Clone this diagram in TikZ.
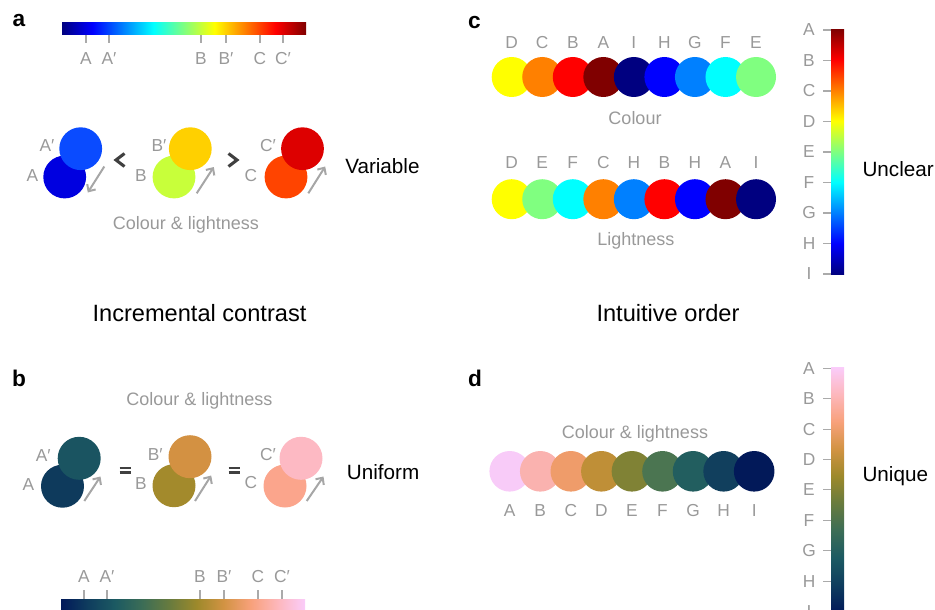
\documentclass[tikz,border=0pt]{standalone}
\usepackage{fontspec}
\setmainfont{Liberation Sans}
\usetikzlibrary{arrows.meta}
% jet colormap
\definecolor{jet0}{rgb}{0,0,0.5}
\definecolor{jet1}{rgb}{0,0,1}
\definecolor{jet2}{rgb}{0,1,1}
\definecolor{jet3}{rgb}{1,1,0}
\definecolor{jet4}{rgb}{1,0,0}
\definecolor{jet5}{rgb}{0.5,0,0}
% batlow colormap
\definecolor{bat0}{HTML}{011959}
\definecolor{bat1}{HTML}{0F3D5E}
\definecolor{bat2}{HTML}{1C5A62}
\definecolor{bat3}{HTML}{3C6D56}
\definecolor{bat4}{HTML}{687B3E}
\definecolor{bat5}{HTML}{9D892B}
\definecolor{bat6}{HTML}{D29343}
\definecolor{bat7}{HTML}{F8A17B}
\definecolor{bat8}{HTML}{FDB7BC}
\definecolor{bat9}{HTML}{FACCFA}
\pgfdeclarehorizontalshading{jeth}{100bp}{color(0bp)=(jet0); color(25bp)=(jet0); color(31.25bp)=(jet1); color(43.75bp)=(jet2); color(56.25bp)=(jet3); color(68.75bp)=(jet4); color(75bp)=(jet5); color(100bp)=(jet5)}
\pgfdeclareverticalshading{jetv}{100bp}{color(0bp)=(jet0); color(25bp)=(jet0); color(31.25bp)=(jet1); color(43.75bp)=(jet2); color(56.25bp)=(jet3); color(68.75bp)=(jet4); color(75bp)=(jet5); color(100bp)=(jet5)}
\pgfdeclarehorizontalshading{bath}{100bp}{color(0bp)=(bat0); color(25bp)=(bat0); color(30.56bp)=(bat1); color(36.11bp)=(bat2); color(41.67bp)=(bat3); color(47.22bp)=(bat4); color(52.78bp)=(bat5); color(58.33bp)=(bat6); color(63.89bp)=(bat7); color(69.44bp)=(bat8); color(75bp)=(bat9); color(100bp)=(bat9)}
\pgfdeclareverticalshading{batv}{100bp}{color(0bp)=(bat0); color(25bp)=(bat0); color(30.56bp)=(bat1); color(36.11bp)=(bat2); color(41.67bp)=(bat3); color(47.22bp)=(bat4); color(52.78bp)=(bat5); color(58.33bp)=(bat6); color(63.89bp)=(bat7); color(69.44bp)=(bat8); color(75bp)=(bat9); color(100bp)=(bat9)}
% grays
\definecolor{labgray}{HTML}{999999}
\definecolor{tickgray}{HTML}{AAAAAA}
\definecolor{arrowgray}{HTML}{A6A6A6}
\definecolor{symgray}{HTML}{404040}
% panel a circles
\definecolor{aA}{HTML}{0000E0}
\definecolor{aAp}{HTML}{0A4BFF}
\definecolor{aB}{HTML}{C8FF3A}
\definecolor{aBp}{HTML}{FFD000}
\definecolor{aC}{HTML}{FF4400}
\definecolor{aCp}{HTML}{DD0000}
% panel b circles
\definecolor{pA}{HTML}{0E3A5C}
\definecolor{pAp}{HTML}{1A5461}
\definecolor{pB}{HTML}{A38A2C}
\definecolor{pBp}{HTML}{D39142}
\definecolor{pC}{HTML}{FBA58C}
\definecolor{pCp}{HTML}{FDB9C3}
% panel c (jet samples)
\definecolor{jA}{rgb}{0.5,0,0}
\definecolor{jB}{rgb}{1,0,0}
\definecolor{jC}{rgb}{1,0.5,0}
\definecolor{jD}{rgb}{1,1,0}
\definecolor{jE}{rgb}{0.5,1,0.5}
\definecolor{jF}{rgb}{0,1,1}
\definecolor{jG}{rgb}{0,0.5,1}
\definecolor{jH}{rgb}{0,0,1}
\definecolor{jI}{rgb}{0,0,0.5}
% panel d (batlow samples)
\definecolor{bA}{HTML}{F8CBF8}
\definecolor{bB}{HTML}{FAB2AF}
\definecolor{bC}{HTML}{EF9C6A}
\definecolor{bD}{HTML}{BF8F37}
\definecolor{bE}{HTML}{808235}
\definecolor{bF}{HTML}{4B7551}
\definecolor{bG}{HTML}{225E5F}
\definecolor{bH}{HTML}{113F5D}
\definecolor{bI}{HTML}{021959}
\begin{document}
\begin{tikzpicture}[x=0.75pt,y=-0.75pt,
  lab/.style={text=labgray, font=\fontsize{13}{15}\selectfont, inner sep=0pt},
  capt/.style={text=labgray, font=\fontsize{13.5}{16}\selectfont, inner sep=0pt, anchor=base},
  word/.style={text=black, font=\fontsize{15.5}{18}\selectfont, inner sep=0pt, anchor=base west},
  heading/.style={text=black, font=\fontsize{17.7}{21}\selectfont, inner sep=0pt, anchor=base},
  panel/.style={text=black, font=\fontsize{17}{20}\selectfont\bfseries, inner sep=0pt, anchor=base},
  tickline/.style={draw=tickgray, line width=0.8pt},
  garrow/.style={draw=arrowgray, line width=1.5pt, -{Straight Barb[length=4pt,width=7.5pt]}},
  chev/.style={draw=symgray, line width=2.3pt, miter limit=4},
  eqbar/.style={draw=symgray, line width=1.9pt}]
\useasboundingbox (0,0) rectangle (935,610);
\clip (0,0) rectangle (935,610);

% ---------------- panel a ----------------
\node[panel] (pa) at (19,27) {a};
\shade[shading=jeth] (62,23) rectangle (306,35);
\foreach \x/\t [count=\i] in {86/A, 109/A′, 201/B, 226/B′, 260/C, 283/C′}{
  \draw[tickline] (\x,35) -- (\x,43);
  \node[lab] (atl\i) at (\x,58.5) {\t};
}
\fill[aA] (64.7,177) circle[radius=21.4];
\fill[aAp] (80.7,148.7) circle[radius=21.4];
\fill[aB] (174,177) circle[radius=21.4];
\fill[aBp] (190.3,148.7) circle[radius=21.4];
\fill[aC] (286,177) circle[radius=21.4];
\fill[aCp] (302.5,148.7) circle[radius=21.4];
\node[lab] (aAl) at (32.5,175.5) {A};
\node[lab] (aApl) at (47,146) {A′};
\node[lab] (aBl) at (141,176) {B};
\node[lab] (aBpl) at (159,146) {B′};
\node[lab] (aCl) at (251,175.5) {C};
\node[lab] (aCpl) at (268,146) {C′};
\draw[garrow] (104.3,166.5) -- (87.8,192.5);
\draw[garrow] (196.7,193.3) -- (213.8,167);
\draw[garrow] (308.3,193.3) -- (325.2,166.5);
\draw[chev] (124.5,153.5) -- (116,160) -- (124.5,166.5);
\draw[chev] (228.5,153.5) -- (237,160) -- (228.5,166.5);
\node[word] (variable) at (345,173.3) {Variable};
\node[capt] (acap) at (186,229) {Colour \& lightness};

\node[heading] (inc) at (199.5,321.5) {Incremental contrast};

% ---------------- panel b ----------------
\node[panel] (pb) at (19,386) {b};
\node[capt] (bcap) at (199.5,405.5) {Colour \& lightness};
\fill[pA] (62.5,486.2) circle[radius=21.5];
\fill[pAp] (79.2,458.3) circle[radius=21.5];
\fill[pB] (174,485.7) circle[radius=21.5];
\fill[pBp] (190,456.7) circle[radius=21.5];
\fill[pC] (285,486) circle[radius=21.5];
\fill[pCp] (301,458.3) circle[radius=21.5];
\node[lab] (bAl) at (28.3,485) {A};
\node[lab] (bApl) at (43.3,455.8) {A′};
\node[lab] (bBl) at (141,483.5) {B};
\node[lab] (bBpl) at (155.3,455) {B′};
\node[lab] (bCl) at (251,483) {C};
\node[lab] (bCpl) at (268,455) {C′};
\draw[garrow] (84.3,501) -- (100.5,476.5);
\draw[garrow] (195,501) -- (211.2,475.5);
\draw[garrow] (306.7,501) -- (323.5,476.5);
\draw[eqbar] (119.5,468) -- (131,468);
\draw[eqbar] (119.5,472.5) -- (131,472.5);
\draw[eqbar] (228.5,468) -- (240,468);
\draw[eqbar] (228.5,472.5) -- (240,472.5);
\node[word] (uniform) at (346.7,479.3) {Uniform};
\shade[shading=bath] (61,599) rectangle (305,616);
\foreach \x/\t [count=\i] in {84/A, 107/A′, 200/B, 224/B′, 258/C, 282/C′}{
  \draw[tickline] (\x,590) -- (\x,599);
  \node[lab] (btl\i) at (\x,576.7) {\t};
}

% ---------------- panel c ----------------
\node[panel] (pc) at (474.5,28.3) {c};
\foreach \t/\c [count=\i from 0] in {D/jD, C/jC, B/jB, A/jA, I/jI, H/jH, G/jG, F/jF, E/jE}{
  \fill[\c] (511.7+30.54*\i,77) circle[radius=20];
  \node[lab] (ctop\i) at (511.7+30.54*\i,42.2) {\t};
}
\node[capt] (ccap1) at (635,124.7) {Colour};
\foreach \t/\c [count=\i from 0] in {D/jD, E/jE, F/jF, C/jC, H/jG, B/jB, H/jH, A/jA, I/jI}{
  \fill[\c] (511.7+30.54*\i,199.2) circle[radius=20];
  \node[lab] (cbot\i) at (511.7+30.54*\i,162.2) {\t};
}
\node[capt] (ccap2) at (635.8,245) {Lightness};
\shade[shading=jetv] (831,29.3) rectangle (844,274);
\foreach \t [count=\i from 0] in {A,B,C,D,E,F,G,H,I}{
  \draw[tickline] (823,30+30.5*\i) -- (831,30+30.5*\i);
  \node[lab] (cbar\i) at (809,30+30.5*\i) {\t};
}
\node[word] (unclear) at (862.3,176.7) {Unclear};

\node[heading] (intu) at (668,321.5) {Intuitive order};

% ---------------- panel d ----------------
\node[panel] (pd) at (475,386) {d};
\node[capt] (dcap) at (635,438.6) {Colour \& lightness};
\foreach \t/\c [count=\i from 0] in {A/bA, B/bB, C/bC, D/bD, E/bE, F/bF, G/bG, H/bH, I/bI}{
  \fill[\c] (509.7+30.56*\i,471.3) circle[radius=20.3];
  \node[lab] (drow\i) at (509.7+30.56*\i,510.8) {\t};
}
\shade[shading=batv] (831,367.3) rectangle (844,612);
\foreach \t [count=\i from 0] in {A,B,C,D,E,F,G,H,I}{
  \draw[tickline] (823,368.3+30.4*\i) -- (831,368.3+30.4*\i);
  \node[lab] (dbar\i) at (809,368.3+30.4*\i) {\t};
}
\node[word] (unique) at (862.3,481) {Unique};
\end{tikzpicture}
\end{document}
